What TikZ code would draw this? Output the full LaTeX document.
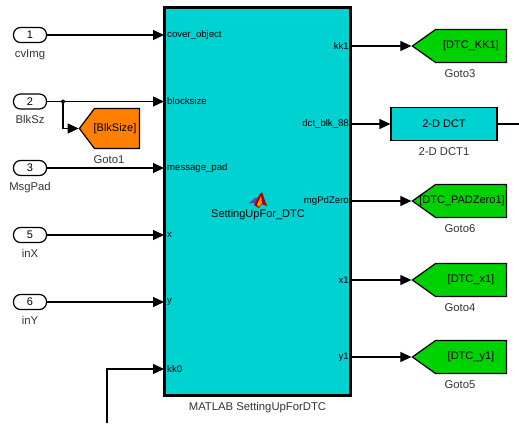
\documentclass[tikz,border=0pt]{standalone}
\usepackage{fontspec}
\setmainfont{Liberation Sans}
\usetikzlibrary{arrows.meta, positioning, shapes.symbols}

\begin{document}
\begin{tikzpicture}[
  x=1pt, y=-1pt,
  blk/.style={draw, line width=2.4pt, fill=simcyan, minimum width=186pt, minimum height=388pt, inner sep=0pt},
  inport/.style={draw, line width=1.2pt, rounded corners=7pt, minimum width=33pt, minimum height=15pt,
                 inner sep=0pt, font=\fontsize{11}{12}\selectfont},
  dctbox/.style={draw, line width=1.2pt, fill=simcyan, minimum width=106pt, minimum height=33pt,
                 inner sep=0pt, font=\fontsize{11}{12}\selectfont},
  gotobox/.style={draw, line width=1.2pt, fill=simgreen, signal, signal to=west, inner sep=0pt, anchor=east,
                  minimum width=94pt, minimum height=33pt, signal pointer angle=71},
  gototext/.style={inner sep=0pt, font=\fontsize{11}{12}\selectfont},
  lab/.style={inner sep=0pt, text=black!80, font=\fontsize{11.3}{12}\selectfont},
  portl/.style={inner sep=3pt, font=\fontsize{9.6}{10}\selectfont},
  flow/.style={-{Triangle[length=11pt, width=10pt]}, line width=1.2pt},
  wire/.style={line width=1.2pt}
]
\useasboundingbox (0,0) rectangle (519,423);
\definecolor{simcyan}{RGB}{0,209,209}
\definecolor{simgreen}{RGB}{0,209,0}
\definecolor{simorange}{RGB}{255,128,0}

\node[blk] (fcn) at (257.5,201.5) {};
\node[font=\fontsize{11}{12}\selectfont, inner sep=0pt] (fcntxt) at (258,215) {SettingUpFor\_DTC};
\node[lab, below=5pt of fcn.south] (fcnlab) {MATLAB SettingUpForDTC};
% matlab logo
\fill[blue!55!black!70] (249,203) -- (255,198) -- (259,197) -- (258,203) -- cycle;
\fill[red!65!black] (254,205) -- (260,194) -- (262,192) -- (265,201) -- (267,206) -- (262,204) -- (259,208) -- cycle;
\fill[orange!80!yellow] (257,205) -- (261,196) -- (262,203) -- (259,207) -- cycle;

% inports
\node[inport] (in1) at (30,35) {1};
\node[inport] (in2) at (30,101.5) {2};
\node[inport] (in3) at (30,168) {3};
\node[inport] (in5) at (30,235) {5};
\node[inport] (in6) at (30,302) {6};
\node[lab, below=6pt of in1] {cvImg};
\node[lab, below=6pt of in2] {BlkSz};
\node[lab, below=6pt of in3] {MsgPad};
\node[lab, below=6pt of in5] {inX};
\node[lab, below=6pt of in6] {inY};

% ports of the block
\node[portl, anchor=west] (pcov) at (164,35) {cover\_object};
\node[portl, anchor=west] (pblk) at (164,101.5) {blocksize};
\node[portl, anchor=west] (pmsg) at (164,168) {message\_pad};
\node[portl, anchor=west] (px) at (164,235) {x};
\node[portl, anchor=west] (py) at (164,302) {y};
\node[portl, anchor=west] (pkk) at (164,369) {kk0};
\node[portl, anchor=east] (pkk1) at (352,46) {kk1};
\node[portl, anchor=east] (pdct) at (352,124) {dct\_blk\_88};
\node[portl, anchor=east] (pmg) at (352,201) {mgPdZero};
\node[portl, anchor=east] (px1) at (352,280) {x1};
\node[portl, anchor=east] (py1) at (352,357) {y1};

% goto blocks
\node[gotobox, fill=simorange, minimum width=60pt, minimum height=40pt, signal pointer angle=106] (g1) at (140,128.5) {};
\node[gototext] at (115,129) {[BlkSize]};
\node[lab, below=6pt of g1.south, xshift=-8pt] {Goto1};
\node[gotobox] (g3) at (507,46) {};
\node[gototext] at (g3.center) {[DTC\_KK1]};
\node[lab, below=6pt of g3.south, xshift=-11pt] {Goto3};
\node[gotobox] (g6) at (507,201) {};
\node[gototext] at (462,201) {[DTC\_PADZero1]};
\node[lab, below=6pt of g6.south, xshift=-11pt] {Goto6};
\node[gotobox] (g4) at (507,280) {};
\node[gototext] at (g4.center) {[DTC\_x1]};
\node[lab, below=6pt of g4.south, xshift=-11pt] {Goto4};
\node[gotobox] (g5) at (507,357) {};
\node[gototext] at (g5.center) {[DTC\_y1]};
\node[lab, below=6pt of g5.south, xshift=-11pt] {Goto5};

\node[dctbox] (dct) at (444,124) {2-D DCT};
\node[lab, below=6pt of dct] {2-D DCT1};

\coordinate (jn) at (63,101.5);
\coordinate (kkin) at (107,423);
\coordinate (dctout) at (519,124);

\draw[flow] (in1) -- (pcov);
\draw[flow] (in2) -- (pblk);
\draw[flow] (in3) -- (pmsg);
\draw[flow] (in5) -- (px);
\draw[flow] (in6) -- (py);
\draw[flow] (kkin) |- (pkk);
\draw[flow] (jn) |- (g1.west);
\fill (jn) circle (2pt);
\draw[flow] (pkk1) -- (g3.west);
\draw[flow] (pdct) -- (dct);
\draw[flow] (pmg) -- (g6.west);
\draw[flow] (px1) -- (g4.west);
\draw[flow] (py1) -- (g5.west);
\draw[wire] (dct) -- (dctout);
\end{tikzpicture}
\end{document}
